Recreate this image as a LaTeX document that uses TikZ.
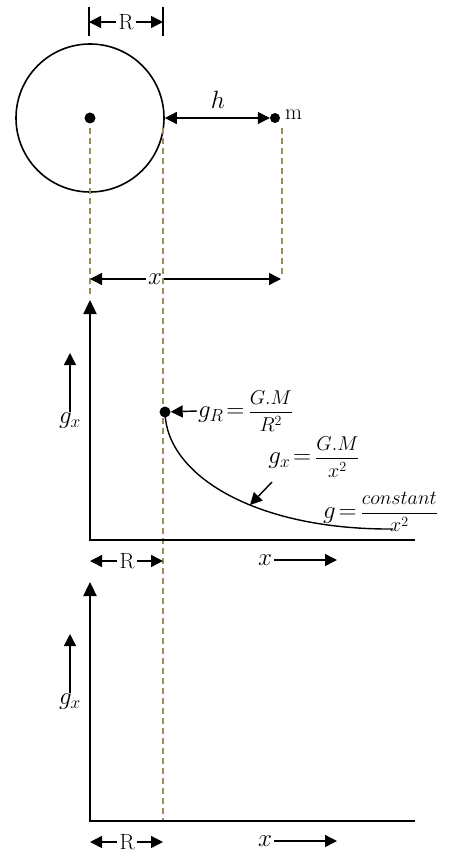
\RequirePackage{fix-cm}
\documentclass[tikz,border=0pt]{standalone}
\usepackage{amsmath}
\usepackage{fontspec}
\usetikzlibrary{arrows.meta,positioning}
\definecolor{dsh}{HTML}{9C8D5B}
\newcommand{\lblsz}{\fontsize{22}{25}\selectfont}
\newcommand{\mathsz}{\fontsize{25}{28}\selectfont}
\newcommand{\frsz}{\fontsize{20}{22}\selectfont}
\newcommand{\eqfrac}[2]{{\frsz$\dfrac{#1}{#2}$}}
\tikzset{
  ar/.style={-{Triangle[length=12pt,width=12pt]},line width=1.4pt},
  dar/.style={{Triangle[length=12pt,width=12pt]}-{Triangle[length=12pt,width=12pt]},line width=1.4pt},
  axis/.style={-{Triangle[length=14pt,width=13pt]},line width=2.4pt},
  guide/.style={draw=dsh,line width=1.6pt,dash pattern=on 6pt off 4pt},
  dot/.style={circle,fill,inner sep=0pt,minimum size=11pt},
  tick/.style={line width=1.2pt},
  ml/.style={font=\mathsz,inner sep=2pt},
}

\begin{document}
\begin{tikzpicture}[x=1pt,y=-1pt,every node/.style={font=\lblsz}]
  \useasboundingbox (0,0) rectangle (471,853);
  % ---- planet, mass and distances
  \node[circle,draw,line width=1.6pt,minimum size=148pt,inner sep=0pt] (earth) at (90,118) {};
  \node[dot] (core) at (earth.center) {};
  \node[dot,minimum size=10pt] (m) at (275,118) {};
  \node[anchor=base west,inner sep=0pt] (mlbl) at (285,120) {m};
  \draw[tick] (89,7) -- (89,36) (163,7) -- (163,36);
  \node[inner sep=2pt] (rtop) at (126,22) {R};
  \coordinate (rtl) at (89,22);
  \coordinate (rtr) at (163,22);
  \foreach \e in {rtl,rtr} \draw[ar] (rtop) -- (\e);
  \draw[dar] (earth.east) -- (m.west);
  \node[ml] (h) at (218,100) {$h$};
  \draw[guide] (90,128) -- (90,298);
  \draw[guide] (163,128) -- (163,821);
  \draw[guide] (282,128) -- (282,277);
  \node[ml] (xd) at (155,279) {$x$};
  \coordinate (xdl) at (90,279);
  \coordinate (xdr) at (281,279);
  \foreach \e in {xdl,xdr} \draw[ar] (xd) -- (\e);

  % ---- the two graphs
  \foreach \oy/\ty/\n in {540/300/a,821/582/b} {
    \coordinate (o\n) at (90,\oy);
    \coordinate (xe\n) at (415,\oy);
    \coordinate (yt\n) at (90,\ty);
    \draw[axis] (xe\n) -- (o\n) -- (yt\n);
    \node[ml,anchor=north,inner sep=1pt] (gx\n) at (70,\oy-128) {$g_x$};
    \coordinate (gu\n) at (70,\oy-187);
    \draw[ar] (gx\n.north) -- (gu\n);
    \node[inner sep=2pt] (r\n) at (127,\oy+21) {R};
    \coordinate (rl\n) at (90,\oy+21);
    \coordinate (rr\n) at (163,\oy+21);
    \draw[ar] (r\n) -- (rl\n);
    \draw[ar] (r\n) -- (rr\n);
    \node[ml] (lbx\n) at (265,\oy+20) {$x$};
    \coordinate (xarr\n) at (337,\oy+20);
    \draw[ar] (lbx\n) -- (xarr\n);
  }

  % ---- g(x) curve
  \node[dot] (gr) at (165,412) {};
  \coordinate (cend) at (393,529);
  \draw[line width=1.4pt] (gr.center) .. controls (166,475) and (255,530) .. (cend);
  \node[ml,anchor=west,inner sep=1pt] (grl) at (197,411) {$g_R\!=$\,\eqfrac{G.M}{R^2}};
  \draw[ar] (grl.west) -- (gr);
  \node[ml] (gxl) at (314,457) {$g_x\!=$\,\eqfrac{G.M}{x^2}};
  \coordinate (gxs) at (272,482);
  \coordinate (gxe) at (250,505);
  \draw[ar] (gxs) -- (gxe);
  \node[ml,anchor=west,inner sep=1pt] (gcl) at (322,512) {$g\!=$\,\eqfrac{constant}{x^2}};
\end{tikzpicture}
\end{document}
